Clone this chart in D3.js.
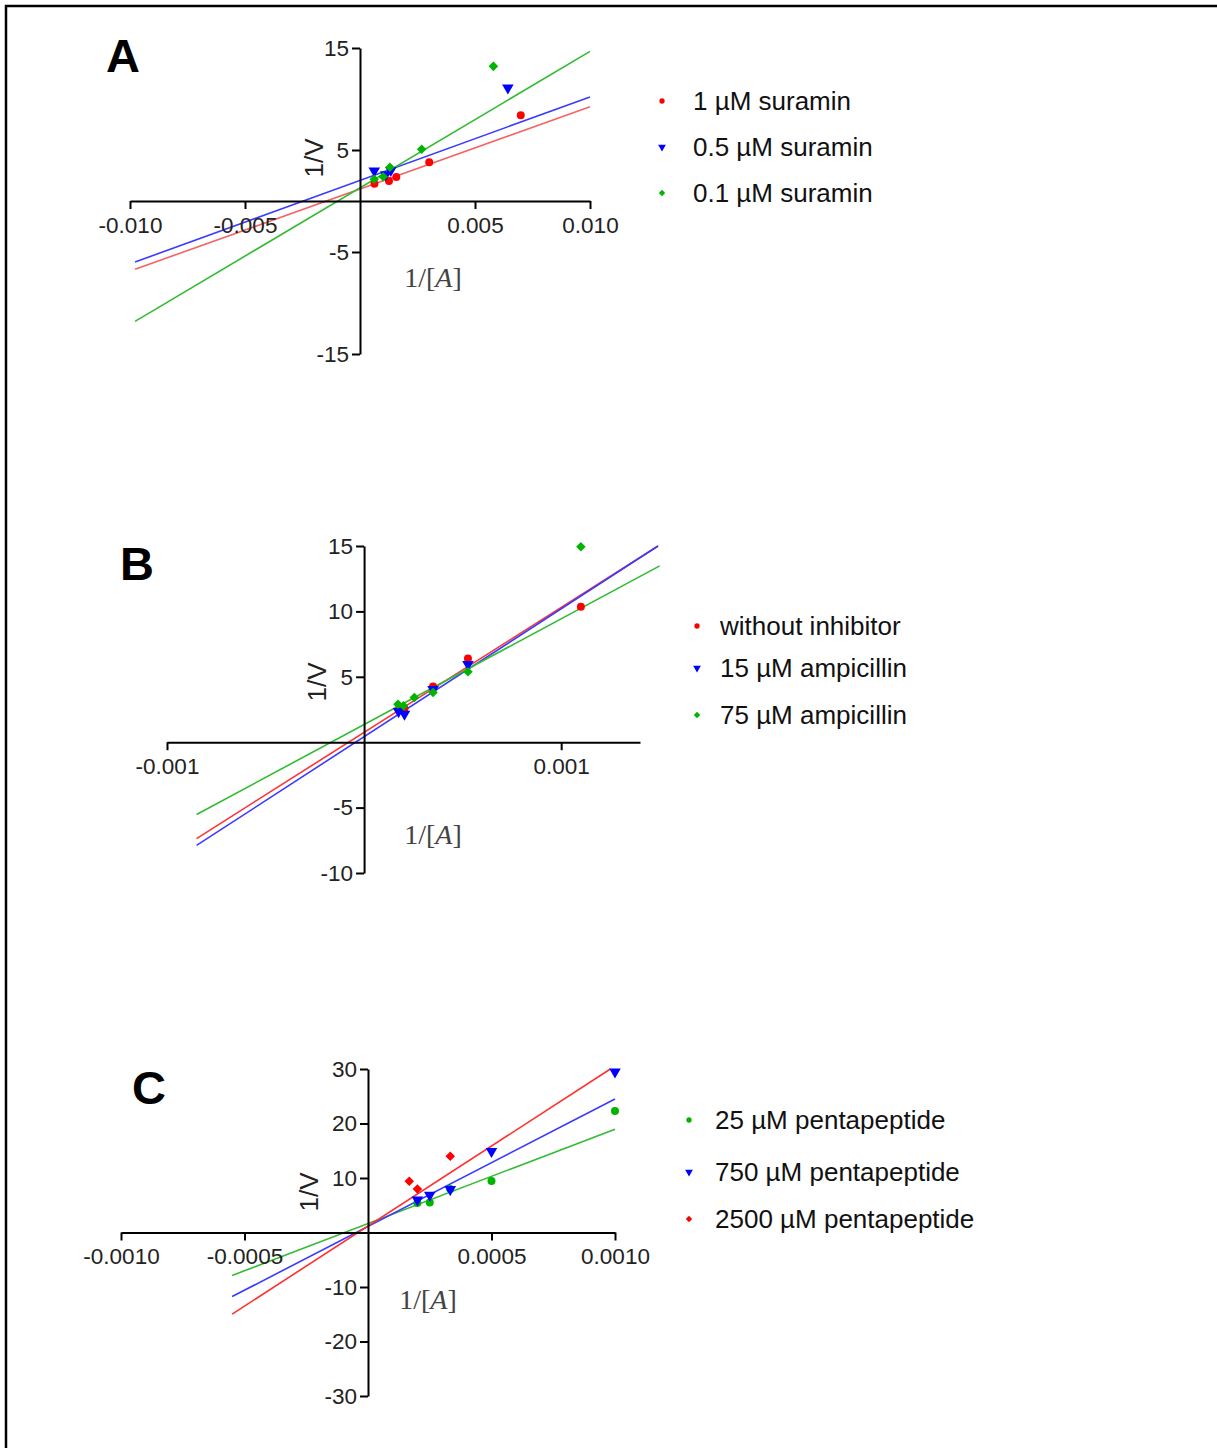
<!DOCTYPE html>
<html>
<head>
<meta charset="utf-8">
<script src="https://cdn.jsdelivr.net/npm/d3@7"></script>
<style>
  body { margin: 0; background: #fff; }
  text { font-family: "Liberation Sans", Arial, sans-serif; }
</style>
</head>
<body>
<div id="chart"></div>
<script>
// ---- Panel A: suramin ----
const aLabels = ["1 µM suramin", "0.5 µM suramin", "0.1 µM suramin"]
const aX1 = [0.00063, 0.00126, 0.00158, 0.00301, 0.00699]
const aY1 = [1.7, 1.95, 2.35, 3.8, 8.4]
const aX2 = [0.00062, 0.00112, 0.00134, 0.00643]
const aY2 = [2.95, 2.6, 3.0, 11.1]
const aX3 = [0.00062, 0.00101, 0.0013, 0.00268, 0.0058]
const aY3 = [2.13, 2.38, 3.3, 5.07, 13.2]
const aSlopes = [805, 818, 1338]
const aIntercepts = [1.18, 2.02, 1.29]
const aLineX = [-0.00978, 0.010]
const aXTicks = [-0.010, -0.005, 0.005, 0.010]
const aYTicks = [-15, -5, 5, 15]

// ---- Panel B: ampicillin ----
const bLabels = ["without inhibitor", "15 µM ampicillin", "75 µM ampicillin"]
const bX1 = [0.00018, 0.000205, 0.00035, 0.000527, 0.0011]
const bY1 = [2.7, 2.55, 4.25, 6.4, 10.35]
const bX2 = [0.000175, 0.000205, 0.00035, 0.000527]
const bY2 = [2.35, 2.15, 4.05, 5.95]
const bX3 = [0.000172, 0.0002, 0.000255, 0.00035, 0.000527, 0.0011]
const bY3 = [2.9, 2.78, 3.42, 3.8, 5.38, 14.95]
const bSlopes = [9550, 9778, 8085]
const bIntercepts = [0.75, 0.42, 1.35]
const bLineX = [-0.00085, 0.0015]
const bXTicks = [-0.001, 0.001]
const bYTicks = [-10, -5, 5, 10, 15]

// ---- Panel C: pentapeptide ----
const cLabels = ["25 µM pentapeptide", "750 µM pentapeptide", "2500 µM pentapeptide"]
const cX1 = [0.0002, 0.00025, 0.000333, 0.0005, 0.001]
const cY1 = [5.4, 5.5, 8.0, 9.45, 22.3]
const cX2 = [0.0002, 0.00025, 0.000333, 0.0005, 0.001]
const cY2 = [6.0, 6.85, 7.9, 14.9, 29.5]
const cX3 = [0.000167, 0.0002, 0.000333]
const cY3 = [9.4, 8.0, 14.0]
const cSlopes = [17315, 23394, 29367]
const cIntercepts = [1.65, 1.11, 1.18]
const cLineX = [-0.00055, 0.001]
const cXTicks = [-0.0010, -0.0005, 0.0005, 0.0010]
const cYTicks = [-30, -20, -10, 10, 20, 30]

const RED = "#ff0000", BLUE = "#0000ff", GREEN = "#00b400"
const LRED = "#f56464", LBLUE = "#3a3aff", LGREEN = "#33bb33"

const panels = [
  {
    letter: "A", letterPos: [106, 72],
    xDomain: [-0.010, 0.010], xRange: [130, 590], yDomain: [-15, 15], yRange: [354, 48],
    xTicks: aXTicks, yTicks: aYTicks, decimals: 3,
    yLabelPos: [314, 158], xLabelPos: [433, 278],
    legendX: 662, legendTextX: 693, legendY: [101, 147, 193],
    series: [
      {label: aLabels[0], xs: aX1, ys: aY1, m: aSlopes[0], b: aIntercepts[0], shape: "circle", color: RED, line: LRED},
      {label: aLabels[1], xs: aX2, ys: aY2, m: aSlopes[1], b: aIntercepts[1], shape: "triangle", color: BLUE, line: LBLUE},
      {label: aLabels[2], xs: aX3, ys: aY3, m: aSlopes[2], b: aIntercepts[2], shape: "diamond", color: GREEN, line: LGREEN}
    ],
    lineX: aLineX
  },
  {
    letter: "B", letterPos: [120, 580],
    xDomain: [-0.001, 0.0014], xRange: [167, 640], yDomain: [-10, 15], yRange: [873, 546],
    xTicks: bXTicks, yTicks: bYTicks, decimals: 3,
    yLabelPos: [317, 682], xLabelPos: [433, 835],
    legendX: 697, legendTextX: 720, legendY: [626, 668, 715],
    series: [
      {label: bLabels[0], xs: bX1, ys: bY1, m: bSlopes[0], b: bIntercepts[0], shape: "circle", color: RED, line: "#ff3333"},
      {label: bLabels[1], xs: bX2, ys: bY2, m: bSlopes[1], b: bIntercepts[1], shape: "triangle", color: BLUE, line: LBLUE},
      {label: bLabels[2], xs: bX3, ys: bY3, m: bSlopes[2], b: bIntercepts[2], shape: "diamond", color: GREEN, line: LGREEN}
    ],
    lineX: bLineX
  },
  {
    letter: "C", letterPos: [132, 1104],
    xDomain: [-0.0010, 0.0010], xRange: [121, 615], yDomain: [-30, 30], yRange: [1396, 1069],
    xTicks: cXTicks, yTicks: cYTicks, decimals: 4,
    yLabelPos: [309, 1192], xLabelPos: [428, 1300],
    legendX: 689, legendTextX: 715, legendY: [1120, 1172, 1219],
    series: [
      {label: cLabels[0], xs: cX1, ys: cY1, m: cSlopes[0], b: cIntercepts[0], shape: "circle", color: GREEN, line: LGREEN},
      {label: cLabels[1], xs: cX2, ys: cY2, m: cSlopes[1], b: cIntercepts[1], shape: "triangle", color: BLUE, line: LBLUE},
      {label: cLabels[2], xs: cX3, ys: cY3, m: cSlopes[2], b: cIntercepts[2], shape: "diamond", color: RED, line: "#ff3030"}
    ],
    lineX: cLineX
  }
]

const svg = d3.select("#chart").append("svg")
  .attr("width", 1217)
  .attr("height", 1448)

// frame (top and left edges only)
svg.append("path")
  .attr("d", "M6,1448 V6 H1217")
  .attr("fill", "none")
  .attr("stroke", "#000")
  .attr("stroke-width", 2.5)

function marker(shape, size) {
  const type = shape === "circle" ? d3.symbolCircle :
               shape === "triangle" ? d3.symbolTriangle : d3.symbolDiamond2
  return d3.symbol().type(type).size(size)()
}

function markerTransform(shape, x, y) {
  return shape === "triangle" ? `translate(${x},${y}) rotate(180)` : `translate(${x},${y})`
}

panels.forEach(p => {
  const x = d3.scaleLinear().domain(p.xDomain).range(p.xRange)
  const y = d3.scaleLinear().domain(p.yDomain).range(p.yRange)
  const g = svg.append("g")

  // fitted lines, clipped to the top of the y axis
  p.series.forEach(s => {
    const x0 = p.lineX[0]
    const x1 = Math.min(p.lineX[1], (p.yDomain[1] - s.b) / s.m)
    g.append("line")
      .attr("x1", x(x0)).attr("y1", y(s.m * x0 + s.b))
      .attr("x2", x(x1)).attr("y2", y(s.m * x1 + s.b))
      .attr("stroke", s.line)
      .attr("stroke-width", 1.6)
  })

  // points
  p.series.forEach(s => {
    g.selectAll(null)
      .data(s.xs.map((v, i) => [v, s.ys[i]]))
      .enter()
      .append("path")
      .attr("d", marker(s.shape, s.shape === "circle" ? 50 : 58))
      .attr("transform", d => markerTransform(s.shape, x(d[0]), y(d[1])))
      .attr("fill", s.color)
  })

  const xAxis = d3.axisBottom(x)
    .tickValues(p.xTicks)
    .tickSize(8)
    .tickSizeOuter(0)
    .tickPadding(8)
    .tickFormat(d => d.toFixed(p.decimals))
  const yAxis = d3.axisLeft(y)
    .tickValues(p.yTicks)
    .tickSize(8)
    .tickSizeOuter(0)
    .tickPadding(3)
    .tickFormat(d => String(d))

  const gx = g.append("g")
    .attr("transform", `translate(0,${y(0)})`)
    .call(xAxis)
  const gy = g.append("g")
    .attr("transform", `translate(${x(0)},0)`)
    .call(yAxis)

  ;[gx, gy].forEach(a => {
    a.select(".domain").attr("stroke", "#000").attr("stroke-width", 2)
    a.selectAll(".tick line").attr("stroke", "#000").attr("stroke-width", 2)
    a.selectAll(".tick text")
      .attr("font-family", "'Liberation Sans', Arial, sans-serif")
      .attr("font-size", 22.5)
      .attr("fill", "#222")
  })

  // panel letter
  g.append("text")
    .attr("x", p.letterPos[0]).attr("y", p.letterPos[1])
    .attr("font-size", 47)
    .attr("font-weight", "bold")
    .text(p.letter)

  // 1/V label
  g.append("text")
    .attr("transform", `translate(${p.yLabelPos[0]},${p.yLabelPos[1]}) rotate(-90)`)
    .attr("text-anchor", "middle")
    .attr("dominant-baseline", "central")
    .attr("font-size", 26)
    .attr("fill", "#222")
    .text("1/V")

  // 1/[A] label
  const xl = g.append("text")
    .attr("x", p.xLabelPos[0]).attr("y", p.xLabelPos[1] + 9)
    .attr("text-anchor", "middle")
    .attr("font-size", 28)
    .attr("fill", "#444")
    .style("font-family", "'Liberation Serif', 'Times New Roman', serif")
  xl.append("tspan").text("1/[")
  xl.append("tspan").attr("font-style", "italic").text("A")
  xl.append("tspan").text("]")

  // legend
  p.series.forEach((s, i) => {
    g.append("path")
      .attr("d", marker(s.shape, s.shape === "circle" ? 22 : 26))
      .attr("transform", markerTransform(s.shape, p.legendX, p.legendY[i]))
      .attr("fill", s.color)
    g.append("text")
      .attr("x", p.legendTextX)
      .attr("y", p.legendY[i])
      .attr("dominant-baseline", "central")
      .attr("font-size", 26)
      .attr("fill", "#111")
      .text(s.label)
  })
})
</script>
</body>
</html>
